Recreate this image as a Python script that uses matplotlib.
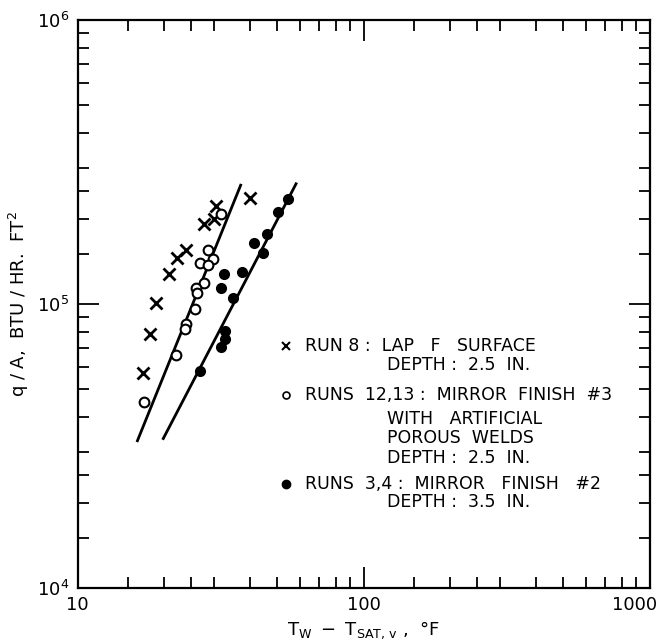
import matplotlib.pyplot as plt
import matplotlib.ticker as ticker
import matplotlib.transforms as mtransforms

plt.rcParams['font.family'] = ['DejaVu Sans']
plt.rcParams['mathtext.default'] = 'regular'

# Run 8: lap F surface
run8_dt = [40.0, 30.4, 29.9, 27.8, 24.0, 22.2, 20.9, 18.8, 17.9, 17.0]
run8_q = [2.37e5, 2.21e5, 1.99e5, 1.91e5, 1.55e5, 1.45e5, 1.28e5, 1.01e5, 7.83e4, 5.73e4]

# Runs 12,13: mirror finish #3 with porous welds
run12_dt = [31.8, 28.7, 29.7, 26.8, 28.7, 27.8, 26.0, 26.2, 25.7, 24.0, 23.7, 22.1, 17.1]
run12_q = [2.07e5, 1.55e5, 1.435e5, 1.39e5, 1.377e5, 1.184e5, 1.143e5, 1.093e5,
           9.61e4, 8.52e4, 8.15e4, 6.61e4, 4.53e4]

# Runs 3,4: mirror finish #2
run3_dt = [54.5, 50.4, 46.0, 41.4, 44.4, 37.7, 32.6, 31.8, 34.9, 32.8, 32.8, 31.8, 26.9]
run3_q = [2.35e5, 2.10e5, 1.757e5, 1.642e5, 1.517e5, 1.292e5, 1.275e5, 1.137e5,
          1.05e5, 8.04e4, 7.52e4, 7.07e4, 5.81e4]

# fitted lines
line1_dt = [16.2, 37.2]
line1_q = [3.30e4, 2.62e5]
line2_dt = [19.95, 58.1]
line2_q = [3.36e4, 2.65e5]

x_ticks = [10, 100, 1000]
x_ticklabels = ['10', '100', '1000']

fig = plt.figure(figsize=(6.63, 6.43), dpi=100)
ax = fig.add_axes([77.5 / 663, 55 / 643, 572 / 663, 568 / 643])

ax.plot(line1_dt, line1_q, color='black', lw=2)
ax.plot(line2_dt, line2_q, color='black', lw=2)
ax.plot(run8_dt, run8_q, 'x', color='black', ms=8, mew=2)
ax.plot(run12_dt, run12_q, 'o', mfc='white', mec='black', ms=7, mew=1.5)
ax.plot(run3_dt, run3_q, 'o', color='black', ms=7)

ax.set_xscale('log')
ax.set_yscale('log')
ax.set_xlim(10, 1000)
ax.set_ylim(1e4, 1e6)

subs = [1.5, 2, 2.5, 3, 4, 5, 6, 7, 8, 9]
for axis in (ax.xaxis, ax.yaxis):
    axis.set_minor_locator(ticker.LogLocator(base=10, subs=subs))
    axis.set_minor_formatter(ticker.NullFormatter())
ax.set_xticks(x_ticks)
ax.set_xticklabels(x_ticklabels)

ax.tick_params(which='both', direction='in', top=True, right=True, width=1.3)
ax.tick_params(which='major', length=15, labelsize=13, pad=6)
ax.tick_params(which='minor', length=8)
for s in ax.spines.values():
    s.set_linewidth(1.6)

# shift the last x label left so it stays inside the figure
lab = ax.get_xticklabels()[-1]
shift = mtransforms.ScaledTranslation(-15 / 100, 0, fig.dpi_scale_trans)
lab.set_transform(lab.get_transform() + shift)

ax.set_xlabel(r'$T_W\ -\ T_{SAT,\,v}$ ,  °F', fontsize=13, labelpad=4)
ax.set_ylabel(r'q / A,  BTU / HR.  FT$^2$', fontsize=13, labelpad=4)

# legend text
fs = 12.5
mk_x = 0.3645
tx = 0.398
ind = 0.541
ax.plot([mk_x], [0.426], 'x', color='black', ms=6, mew=1.5, transform=ax.transAxes)
ax.plot([mk_x], [0.340], 'o', mfc='white', mec='black', ms=5, mew=1.2, transform=ax.transAxes)
ax.plot([mk_x], [0.1835], 'o', color='black', ms=6, transform=ax.transAxes)
rows = [
    (tx, 0.426, 'RUN 8 :  LAP   F   SURFACE'),
    (ind, 0.393, 'DEPTH :  2.5  IN.'),
    (tx, 0.340, 'RUNS  12,13 :  MIRROR  FINISH  #3'),
    (ind, 0.297, 'WITH   ARTIFICIAL'),
    (ind, 0.2635, 'POROUS  WELDS'),
    (ind, 0.228, 'DEPTH :  2.5  IN.'),
    (tx, 0.1835, 'RUNS  3,4 :  MIRROR   FINISH   #2'),
    (ind, 0.152, 'DEPTH :  3.5  IN.'),
]
for x, y, t in rows:
    ax.text(x, y, t, transform=ax.transAxes, fontsize=fs, va='center', ha='left')

fig.savefig('out.png', dpi=100)
